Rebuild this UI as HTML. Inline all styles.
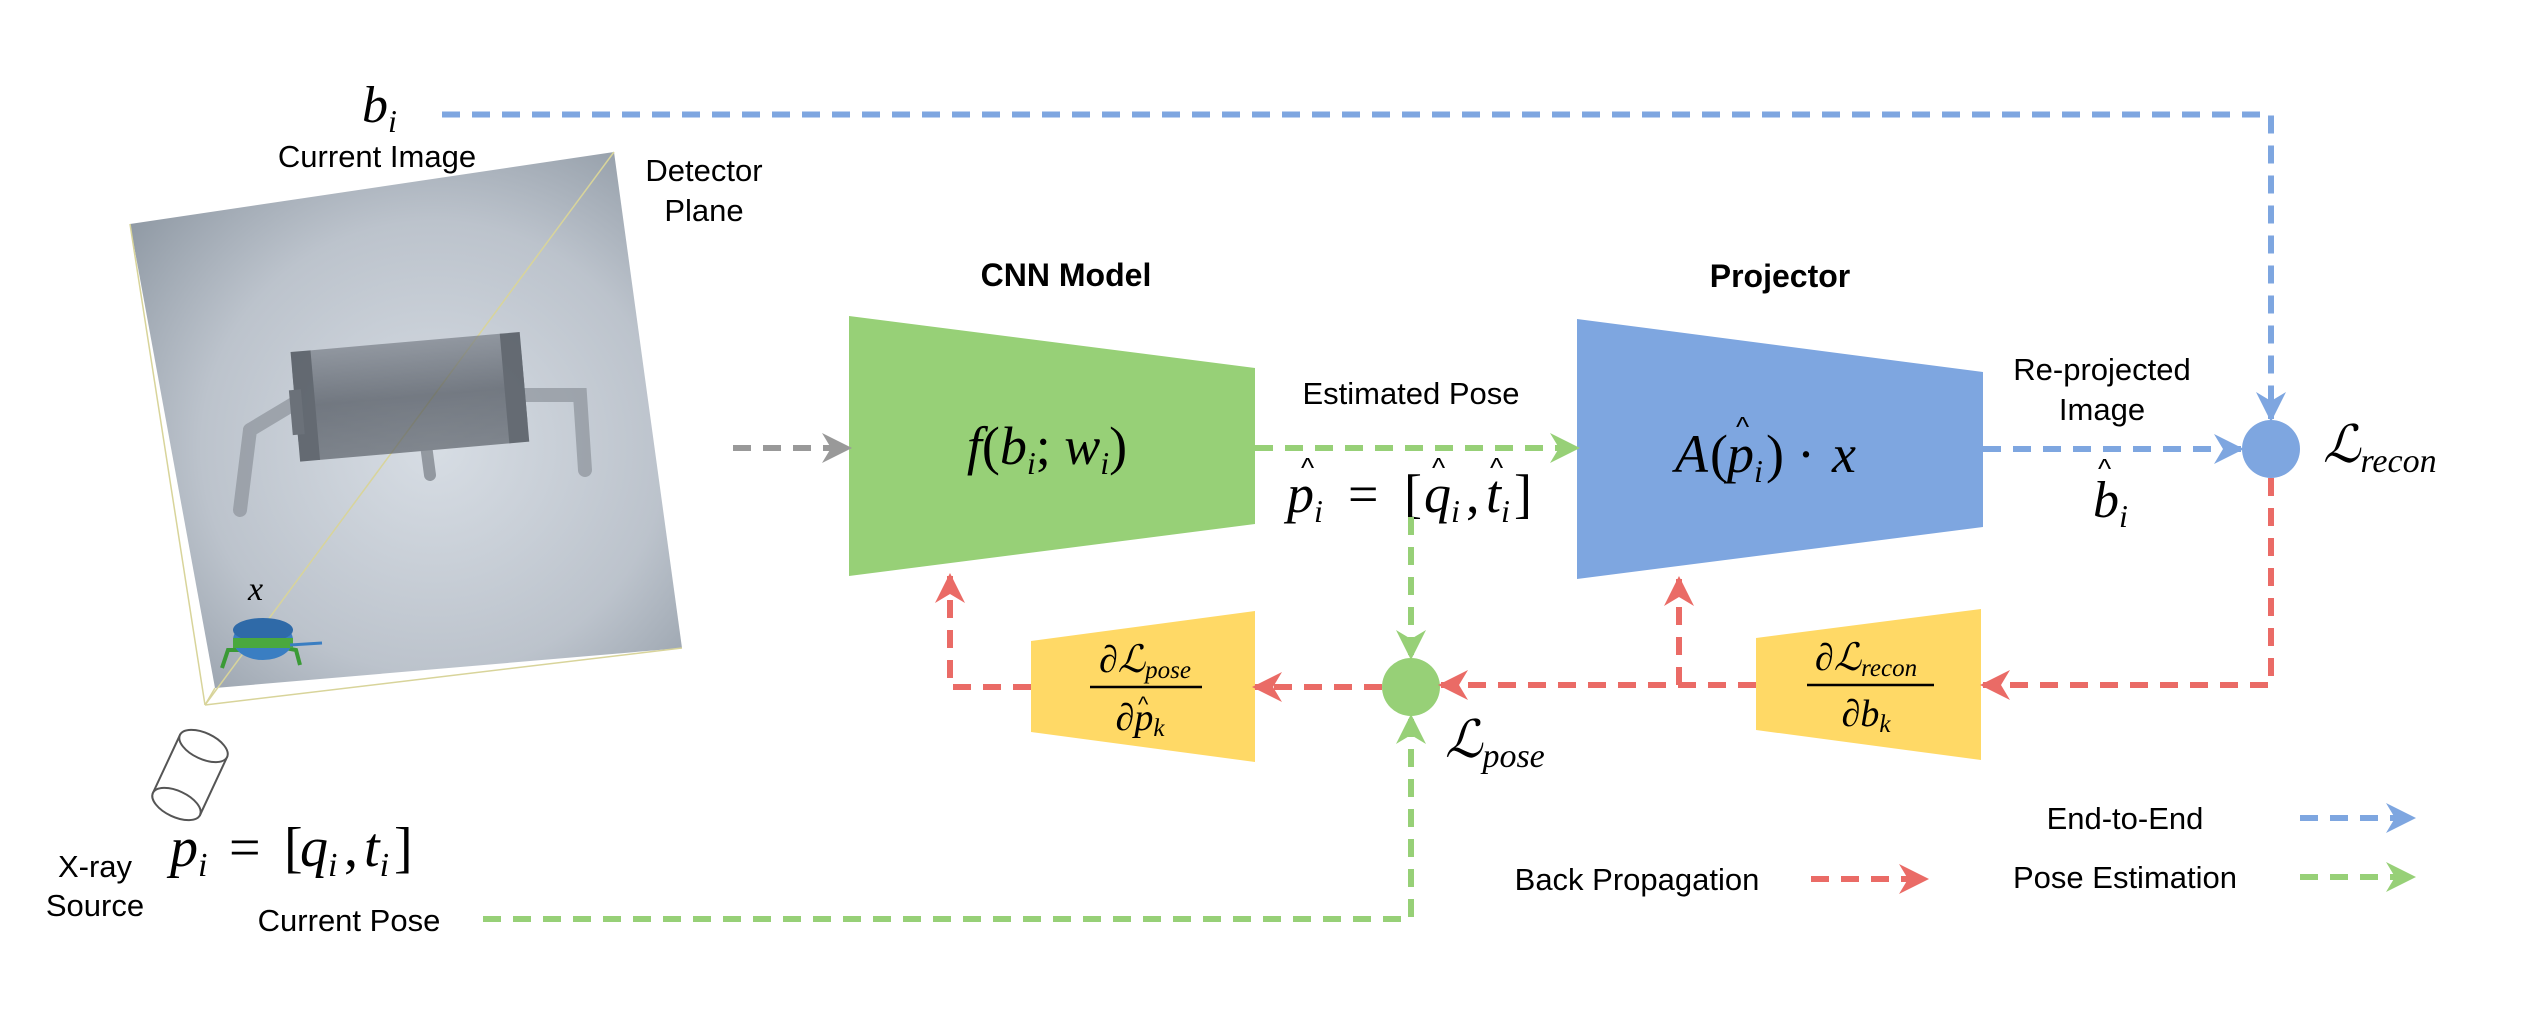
<!DOCTYPE html>
<html><head><meta charset="utf-8"><style>
html,body{margin:0;padding:0;background:#fff;}
svg{display:block}
.s{font-family:"Liberation Sans",sans-serif;fill:#000}
.m{font-family:"Liberation Serif",serif;font-style:italic;fill:#000}
.n{font-family:"Liberation Serif",serif;fill:#000}
</style></head><body>
<svg width="2546" height="1026" viewBox="0 0 2546 1026" xmlns="http://www.w3.org/2000/svg">
<defs>
<radialGradient id="det" cx="0.55" cy="0.55" r="0.7">
<stop offset="0" stop-color="#d7dde4"/><stop offset="0.6" stop-color="#bcc3cc"/><stop offset="1" stop-color="#8e98a3"/>
</radialGradient>
<linearGradient id="cyl" x1="0" y1="0" x2="0" y2="1">
<stop offset="0" stop-color="#7a8089"/><stop offset="0.5" stop-color="#4d535c"/><stop offset="1" stop-color="#5d636b"/>
</linearGradient>
<marker id="ab" viewBox="0 0 10 10" refX="9" refY="5" markerUnits="userSpaceOnUse" markerWidth="30" markerHeight="34" orient="auto"><path d="M0,0 L10,5 L0,10 L3,5 z" fill="#7EA6E0"/></marker>
<marker id="ag" viewBox="0 0 10 10" refX="9" refY="5" markerUnits="userSpaceOnUse" markerWidth="30" markerHeight="34" orient="auto"><path d="M0,0 L10,5 L0,10 L3,5 z" fill="#97D077"/></marker>
<marker id="ar" viewBox="0 0 10 10" refX="9" refY="5" markerUnits="userSpaceOnUse" markerWidth="30" markerHeight="34" orient="auto"><path d="M0,0 L10,5 L0,10 L3,5 z" fill="#EA6B66"/></marker>
<marker id="ay" viewBox="0 0 10 10" refX="9" refY="5" markerUnits="userSpaceOnUse" markerWidth="30" markerHeight="34" orient="auto"><path d="M0,0 L10,5 L0,10 L3,5 z" fill="#999999"/></marker>
</defs>

<!-- detector -->
<polygon points="130,224 614,152 682,648 215,688" fill="url(#det)"/>
<g stroke="#d8d49a" stroke-width="1.5" fill="none">
<line x1="205" y1="705" x2="130" y2="224"/><line x1="205" y1="705" x2="614" y2="152"/>
<line x1="205" y1="705" x2="682" y2="648"/><line x1="205" y1="705" x2="215" y2="688"/>
</g>
<g opacity="0.7">
<path d="M250,430 L240,510" stroke="#8d939b" stroke-width="14" stroke-linecap="round" fill="none"/>
<path d="M300,400 L250,430" stroke="#8d939b" stroke-width="14" stroke-linecap="round" fill="none"/>
<path d="M520,395 L580,395 L585,470" stroke="#8d939b" stroke-width="14" stroke-linecap="round" fill="none"/>
<path d="M420,400 L430,475" stroke="#777d85" stroke-width="12" stroke-linecap="round" fill="none"/>
<g transform="rotate(-5 408 398)">
<rect x="295" y="342" width="230" height="110" rx="20" fill="url(#cyl)"/>
<rect x="295" y="342" width="20" height="110" fill="#3a4048"/>
<rect x="505" y="342" width="20" height="110" fill="#3a4048"/>
<rect x="290" y="380" width="12" height="45" fill="#454b53"/>
</g>
</g>
<!-- small object -->
<path d="M222,668 L228,650 L240,650" stroke="#3a9a36" stroke-width="4" fill="none"/>
<path d="M300,665 L296,650 L285,648" stroke="#3a9a36" stroke-width="4" fill="none"/>
<ellipse cx="263" cy="640" rx="30" ry="20" fill="#3a7ec2"/>
<ellipse cx="263" cy="630" rx="30" ry="12" fill="#2f6aa8"/>
<rect x="233" y="638" width="60" height="10" fill="#4aa83e"/>
<line x1="290" y1="645" x2="322" y2="643" stroke="#3a7ec2" stroke-width="3"/>
<text class="m" x="248" y="600" font-size="34">x</text>
<!-- source -->
<g transform="rotate(25 190 775)">
<rect x="164" y="743" width="52" height="64" fill="#fff" stroke="#555" stroke-width="2"/>
<ellipse cx="190" cy="807" rx="26" ry="13" fill="#fff" stroke="#555" stroke-width="2"/>
<ellipse cx="190" cy="743" rx="26" ry="13" fill="#fff" stroke="#555" stroke-width="2"/>
</g>

<!-- texts left -->
<text class="m" x="362" y="122" font-size="52">b<tspan font-size="32" dy="10">i</tspan></text>
<text class="s" x="377" y="167" font-size="31" text-anchor="middle">Current Image</text>
<text class="s" x="704" y="181" font-size="31" text-anchor="middle">Detector</text>
<text class="s" x="704" y="221" font-size="31" text-anchor="middle">Plane</text>
<text class="s" x="95" y="877" font-size="31" text-anchor="middle">X-ray</text>
<text class="s" x="95" y="916" font-size="31" text-anchor="middle">Source</text>
<text class="s" x="349" y="931" font-size="31" text-anchor="middle">Current Pose</text>
<g font-size="56">
<text class="m" x="170" y="866">p<tspan font-size="34" dy="10">i</tspan></text>
<text class="n" x="229" y="866">=</text>
<text class="n" x="284" y="866">[</text>
<text class="m" x="300" y="866">q<tspan font-size="34" dy="10">i</tspan></text>
<text class="n" x="344" y="866">,</text>
<text class="m" x="364" y="866">t<tspan font-size="34" dy="10">i</tspan></text>
<text class="n" x="394" y="866">]</text>
</g>

<!-- CNN -->
<text class="s" x="1066" y="286" font-size="32" font-weight="bold" text-anchor="middle">CNN Model</text>
<polygon points="849,316 1255,368 1255,524 849,576" fill="#97D077"/>
<text class="m" x="1047" y="464" font-size="54" text-anchor="middle">f<tspan font-style="normal">(</tspan>b<tspan font-size="32" dy="10">i</tspan><tspan dy="-10" font-style="normal">; </tspan>w<tspan font-size="32" dy="10">i</tspan><tspan dy="-10" font-style="normal">)</tspan></text>

<!-- Projector -->
<text class="s" x="1780" y="287" font-size="32" font-weight="bold" text-anchor="middle">Projector</text>
<polygon points="1577,319 1983,372 1983,527 1577,579" fill="#7EA6E0"/>
<g font-size="54">
<text class="m" x="1675" y="472">A</text>
<text class="n" x="1710" y="472">(</text>
<text class="m" x="1727" y="472">p<tspan font-size="32" dy="10">i</tspan></text>
<text class="n" x="1766" y="472">)</text>
<text class="n" x="1797" y="472">·</text>
<text class="m" x="1832" y="472">x</text>
</g>
<text class="s" x="1736" y="436" font-size="28">^</text>

<text class="s" x="1411" y="404" font-size="31" text-anchor="middle">Estimated Pose</text>
<g font-size="54">
<text class="m" x="1287" y="512">p<tspan font-size="32" dy="10">i</tspan></text>
<text class="n" x="1348" y="512">=</text>
<text class="n" x="1404" y="512">[</text>
<text class="m" x="1424" y="512">q<tspan font-size="32" dy="10">i</tspan></text>
<text class="n" x="1466" y="512">,</text>
<text class="m" x="1486" y="512">t<tspan font-size="32" dy="10">i</tspan></text>
<text class="n" x="1514" y="512">]</text>
</g>
<text class="s" x="1301" y="477" font-size="28">^</text>
<text class="s" x="1432" y="477" font-size="28">^</text>
<text class="s" x="1490" y="477" font-size="28">^</text>

<text class="s" x="2102" y="380" font-size="31" text-anchor="middle">Re-projected</text>
<text class="s" x="2102" y="420" font-size="31" text-anchor="middle">Image</text>
<text class="m" x="2093" y="517" font-size="52">b<tspan font-size="32" dy="10">i</tspan></text>
<text class="s" x="2098" y="478" font-size="28">^</text>

<!-- yellow blocks -->
<polygon points="1031,641 1255,611 1255,762 1031,732" fill="#FFD966"/>
<text class="m" x="1145" y="672" font-size="38" text-anchor="middle">∂ℒ<tspan font-size="25" dy="6">pose</tspan></text>
<line x1="1090" y1="687" x2="1202" y2="687" stroke="#000" stroke-width="2.5"/>
<text class="m" x="1140" y="730" font-size="38" text-anchor="middle">∂p<tspan font-size="25" dy="6">k</tspan></text>
<text class="s" x="1138" y="712" font-size="22">^</text>
<polygon points="1756,638 1981,609 1981,760 1756,730" fill="#FFD966"/>
<text class="m" x="1866" y="670" font-size="38" text-anchor="middle">∂ℒ<tspan font-size="25" dy="6">recon</tspan></text>
<line x1="1807" y1="685" x2="1934" y2="685" stroke="#000" stroke-width="2.5"/>
<text class="m" x="1866" y="726" font-size="38" text-anchor="middle">∂b<tspan font-size="25" dy="6">k</tspan></text>

<!-- circles -->
<circle cx="2271" cy="449" r="29" fill="#7EA6E0"/>
<circle cx="1411" cy="687" r="29" fill="#97D077"/>
<text class="m" x="2323" y="462" font-size="52">ℒ<tspan font-size="34" dy="10">recon</tspan></text>
<text class="m" x="1445" y="757" font-size="52">ℒ<tspan font-size="34" dy="10">pose</tspan></text>

<!-- connectors -->
<g fill="none" stroke-width="6" stroke-dasharray="18 12">
<path d="M442,114.5 H2271 V419" stroke="#7EA6E0" marker-end="url(#ab)"/>
<path d="M733,448 H849" stroke="#999999" marker-end="url(#ay)"/>
<path d="M1255,448 H1577" stroke="#97D077" marker-end="url(#ag)"/>
<path d="M1983,449 H2241" stroke="#7EA6E0" marker-end="url(#ab)"/>
<path d="M2271,478 V685 H1983" stroke="#EA6B66" marker-end="url(#ar)"/>
<path d="M1756,685 H1441" stroke="#EA6B66" marker-end="url(#ar)"/>
<path d="M1679,685 V579" stroke="#EA6B66" marker-end="url(#ar)"/>
<path d="M1382,687 H1255" stroke="#EA6B66" marker-end="url(#ar)"/>
<path d="M1031,687 H950 V576" stroke="#EA6B66" marker-end="url(#ar)"/>
<path d="M1411,517 V657" stroke="#97D077" marker-end="url(#ag)"/>
<path d="M483,919 H1411 V717" stroke="#97D077" marker-end="url(#ag)"/>
<path d="M2300,818 H2413" stroke="#7EA6E0" marker-end="url(#ab)"/>
<path d="M2300,877 H2413" stroke="#97D077" marker-end="url(#ag)"/>
<path d="M1811,879 H1926" stroke="#EA6B66" marker-end="url(#ar)"/>
</g>

<!-- legend -->
<text class="s" x="2125" y="829" font-size="31" text-anchor="middle">End-to-End</text>
<text class="s" x="2125" y="888" font-size="31" text-anchor="middle">Pose Estimation</text>
<text class="s" x="1637" y="890" font-size="31" text-anchor="middle">Back Propagation</text>
</svg>
</body></html>
